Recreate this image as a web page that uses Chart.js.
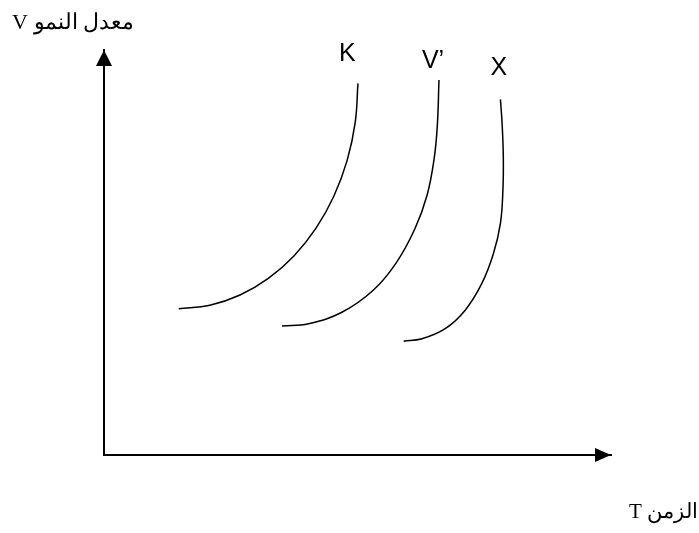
<!DOCTYPE html>
<html>
<head>
<meta charset="utf-8">
<script src="https://cdn.jsdelivr.net/npm/chart.js@4/dist/chart.umd.min.js"></script>
<style>
    html, body { margin: 0; padding: 0; background: #ffffff; }
    #wrap { width: 699px; height: 533px; }
</style>
</head>
<body>
<div id="wrap"><canvas id="chart" width="699" height="533"></canvas></div>
<script>
// curves: time (x) and growth rate (y), axis units 0..10
const kTime = [1.474, 2.088, 2.683, 3.241, 3.746, 4.182, 4.535, 4.796, 4.955, 5.009];
const kRate = [3.614, 3.699, 3.950, 4.360, 4.916, 5.601, 6.396, 7.274, 8.211, 9.177];
const vTime = [3.511, 4.035, 4.692, 5.310, 5.760, 6.130, 6.372, 6.512, 6.575, 6.607];
const vRate = [3.184, 3.241, 3.525, 4.069, 4.739, 5.580, 6.415, 7.320, 8.146, 9.258];
const xTime = [5.91, 6.27, 6.73, 7.12, 7.45, 7.68, 7.819, 7.868, 7.876, 7.852, 7.819];
const xRate = [2.81, 2.87, 3.12, 3.57, 4.23, 4.97, 5.72, 6.54, 7.36, 8.19, 8.78];

const curveNames = ['K', 'V’', 'X'];
const labelTime = [4.80, 6.49, 7.79];
const labelRate = [9.90, 9.73, 9.55];

const yTitle = 'معدل النمو V';
const xTitle = 'الزمن T';

const toPoints = (xs, ys) => xs.map((x, i) => ({ x, y: ys[i] }));

const curve = (label, xs, ys) => ({
    label,
    data: toPoints(xs, ys),
    showLine: true,
    borderColor: '#000000',
    borderWidth: 1.5,
    pointRadius: 0,
    tension: 0.4,
    fill: false,
});

// arrow heads, curve names and the two axis captions
const decorations = {
    id: 'decorations',
    afterDraw(chart) {
        const { ctx, chartArea, scales } = chart;
        ctx.save();
        ctx.fillStyle = '#000000';

        ctx.beginPath();
        ctx.moveTo(chartArea.left, chartArea.top);
        ctx.lineTo(chartArea.left - 8, chartArea.top + 16);
        ctx.lineTo(chartArea.left + 8, chartArea.top + 16);
        ctx.closePath();
        ctx.fill();

        ctx.beginPath();
        ctx.moveTo(chartArea.right, chartArea.bottom);
        ctx.lineTo(chartArea.right - 16, chartArea.bottom - 7);
        ctx.lineTo(chartArea.right - 16, chartArea.bottom + 7);
        ctx.closePath();
        ctx.fill();

        ctx.font = '25px "Liberation Sans", Arial, sans-serif';
        ctx.textAlign = 'center';
        ctx.textBaseline = 'middle';
        curveNames.forEach((name, i) => {
            ctx.fillText(name, scales.x.getPixelForValue(labelTime[i]), scales.y.getPixelForValue(labelRate[i]));
        });

        ctx.direction = 'rtl';
        ctx.textAlign = 'right';
        ctx.textBaseline = 'alphabetic';
        ctx.font = '22px "Liberation Serif", "Times New Roman", serif';
        ctx.fillText(yTitle, 134, 29);
        ctx.font = '21px "Liberation Serif", "Times New Roman", serif';
        ctx.fillText(xTitle, 698, 518);
        ctx.restore();
    },
};

const axis = {
    type: 'linear',
    min: 0,
    max: 10,
    grid: { display: false },
    ticks: { display: false },
    border: { display: true, color: '#000000', width: 2 },
};

new Chart(document.getElementById('chart'), {
    type: 'scatter',
    data: {
        datasets: [
            curve('K', kTime, kRate),
            curve('V’', vTime, vRate),
            curve('X', xTime, xRate),
        ],
    },
    options: {
        responsive: false,
        animation: false,
        layout: {
            padding: { left: 96, top: 50, right: 88, bottom: 70 },
        },
        plugins: {
            legend: { display: false },
            tooltip: { enabled: false },
        },
        scales: {
            x: axis,
            y: axis,
        },
    },
    plugins: [decorations],
});
</script>
</body>
</html>
